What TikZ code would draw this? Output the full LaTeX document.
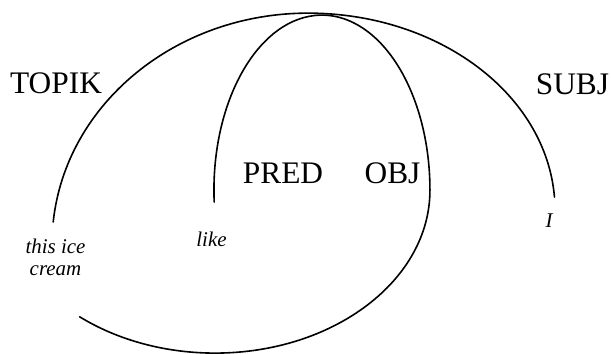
\documentclass[tikz,border=0pt]{standalone}
\usepackage{fontspec}
\setmainfont{Liberation Serif}
\begin{document}
\begin{tikzpicture}[x=1bp,y=-1bp,
  curve/.style={line width=1.6bp, line cap=round},
  role/.style={inner sep=0pt, anchor=base, font=\fontsize{31.5}{36}\selectfont},
  word/.style={inner sep=0pt, anchor=base, align=center, font=\fontsize{21}{22}\selectfont\itshape}]
\useasboundingbox (0,0) rectangle (611,353);
% big arc (TOPIK / SUBJ)
\draw[curve] (53.2,222) arc[start angle=185.5, end angle=270, x radius=256, y radius=231]
  arc[start angle=270, end angle=356.2, x radius=247, y radius=197];
% inner loop (PRED / OBJ)
\draw[curve] (214.2,202) arc[start angle=176.1, end angle=360, x radius=108, y radius=175]
  arc[start angle=0, end angle=129, x radius=215, y radius=163];
% labels
\node[role] (topik) at (56,93) {TOPIK};
\node[role] (subj) at (572.5,94) {SUBJ};
\node[role] (pred) at (283,183) {PRED};
\node[role] (obj) at (392.5,183) {OBJ};
\node[word] (ice) at (55.5,275) {this ice\\cream};
\node[word] (like) at (211.5,246.5) {like};
\node[word] (i) at (549,227) {I};
\end{tikzpicture}
\end{document}
